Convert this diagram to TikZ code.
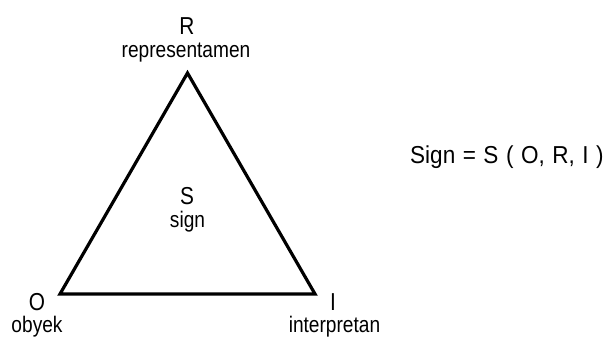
\documentclass[tikz,border=0pt]{standalone}
\usepackage{fontspec}
\setmainfont[FakeStretch=0.85]{Liberation Sans}
\newfontfamily\eqfont[FakeStretch=0.92, WordSpace=1.2]{Liberation Sans}

\begin{document}
\begin{tikzpicture}[x=1pt, y=-1pt,
    big/.style={font=\fontsize{24.5}{24.5}\selectfont, inner sep=0pt, anchor=base},
    small/.style={font=\fontsize{22.5}{22.5}\selectfont, inner sep=0pt, anchor=base}]
  \useasboundingbox (0,0) rectangle (609,338);
  % corners of the triangle
  \coordinate (rep) at (187.5,73);
  \coordinate (obj) at (60,294);
  \coordinate (int) at (315,294);
  \draw[line width=3.2pt, line join=miter] (rep) -- (obj) -- (int) -- cycle;
  % labels at the corners
  \node[big] (R) at (187,34) {R};
  \node[small] (Rtxt) at (186,57) {representamen};
  \node[big] (O) at (37,310) {O};
  \node[small] (Otxt) at (37,332) {obyek};
  \node[big] (I) at (333,310) {I};
  \node[small] (Itxt) at (334.5,332) {interpretan};
  % centre
  \node[big] (S) at (187,204.5) {S};
  \node[small] (Stxt) at (187.5,227) {sign};
  % formula
  \node[big, anchor=base west, font=\eqfont\fontsize{24.5}{24.5}\selectfont] (eq) at (410,163) {Sign = S ( O, R, I )};
\end{tikzpicture}
\end{document}
